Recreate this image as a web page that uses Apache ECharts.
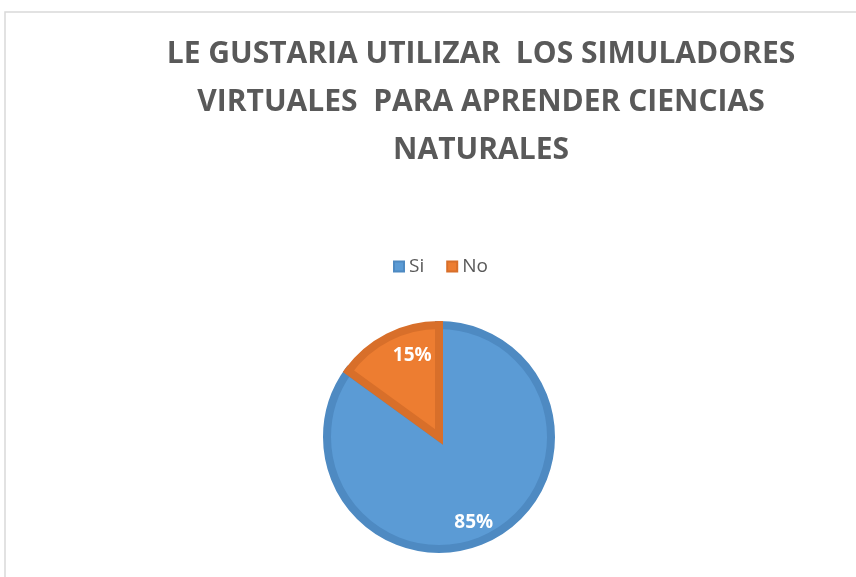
<!DOCTYPE html>
<html>
<head>
<meta charset="utf-8">
<script src="https://cdn.jsdelivr.net/npm/echarts@6/dist/echarts.min.js"></script>
<style>
  html, body { margin: 0; padding: 0; background: #fff; }
  #chart { width: 856px; height: 577px; }
</style>
</head>
<body>
<div id="chart"></div>
<script>
// datos
const titleText = 'LE GUSTARIA UTILIZAR  LOS SIMULADORES\nVIRTUALES  PARA APRENDER CIENCIAS\nNATURALES'
const categories = ['Si', 'No']
const values = [85, 15]
const fillColors = ['#5B9BD5', '#ED7D31']
const borderColors = ['#4E8AC2', '#D86F2A']
// desplazamiento de las etiquetas respecto a la posición 'inside'
const labelShift = [[8, 33], [0, -29]]

const chart = echarts.init(document.getElementById('chart'))

const option = {
  animation: false,
  title: {
    text: titleText,
    left: 476,
    top: 25,
    textAlign: 'center',
    textStyle: {
      fontFamily: 'Open Sans',
      fontWeight: 'bold',
      fontSize: 30,
      lineHeight: 48,
      color: '#595959'
    }
  },
  legend: {
    data: categories,
    left: 393,
    top: 257,
    padding: 0,
    itemWidth: 10,
    itemHeight: 10,
    itemGap: 22,
    icon: 'rect',
    textStyle: {
      fontFamily: 'Open Sans',
      fontSize: 19,
      color: '#595959'
    }
  },
  graphic: [{
    type: 'rect',
    shape: { x: 5, y: 12, width: 900, height: 700 },
    style: { fill: 'none', stroke: '#d9d9d9', lineWidth: 1.5 },
    silent: true
  }],
  series: [{
    type: 'pie',
    center: [439, 437],
    radius: 112,
    startAngle: 90,
    clockwise: true,
    data: categories.map((c, i) => ({
      name: c,
      value: values[i],
      itemStyle: { color: fillColors[i], borderColor: borderColors[i] }
    })),
    itemStyle: { borderWidth: 8, borderJoin: 'miter' },
    label: {
      show: true,
      position: 'inside',
      formatter: '{d}%',
      color: '#fff',
      fontFamily: 'Open Sans',
      fontWeight: 'bold',
      fontSize: 19
    },
    labelLayout: (params) => ({
      dx: labelShift[params.dataIndex][0],
      dy: labelShift[params.dataIndex][1]
    }),
    labelLine: { show: false },
    emphasis: { disabled: true }
  }]
}

chart.setOption(option)
</script>
</body>
</html>
